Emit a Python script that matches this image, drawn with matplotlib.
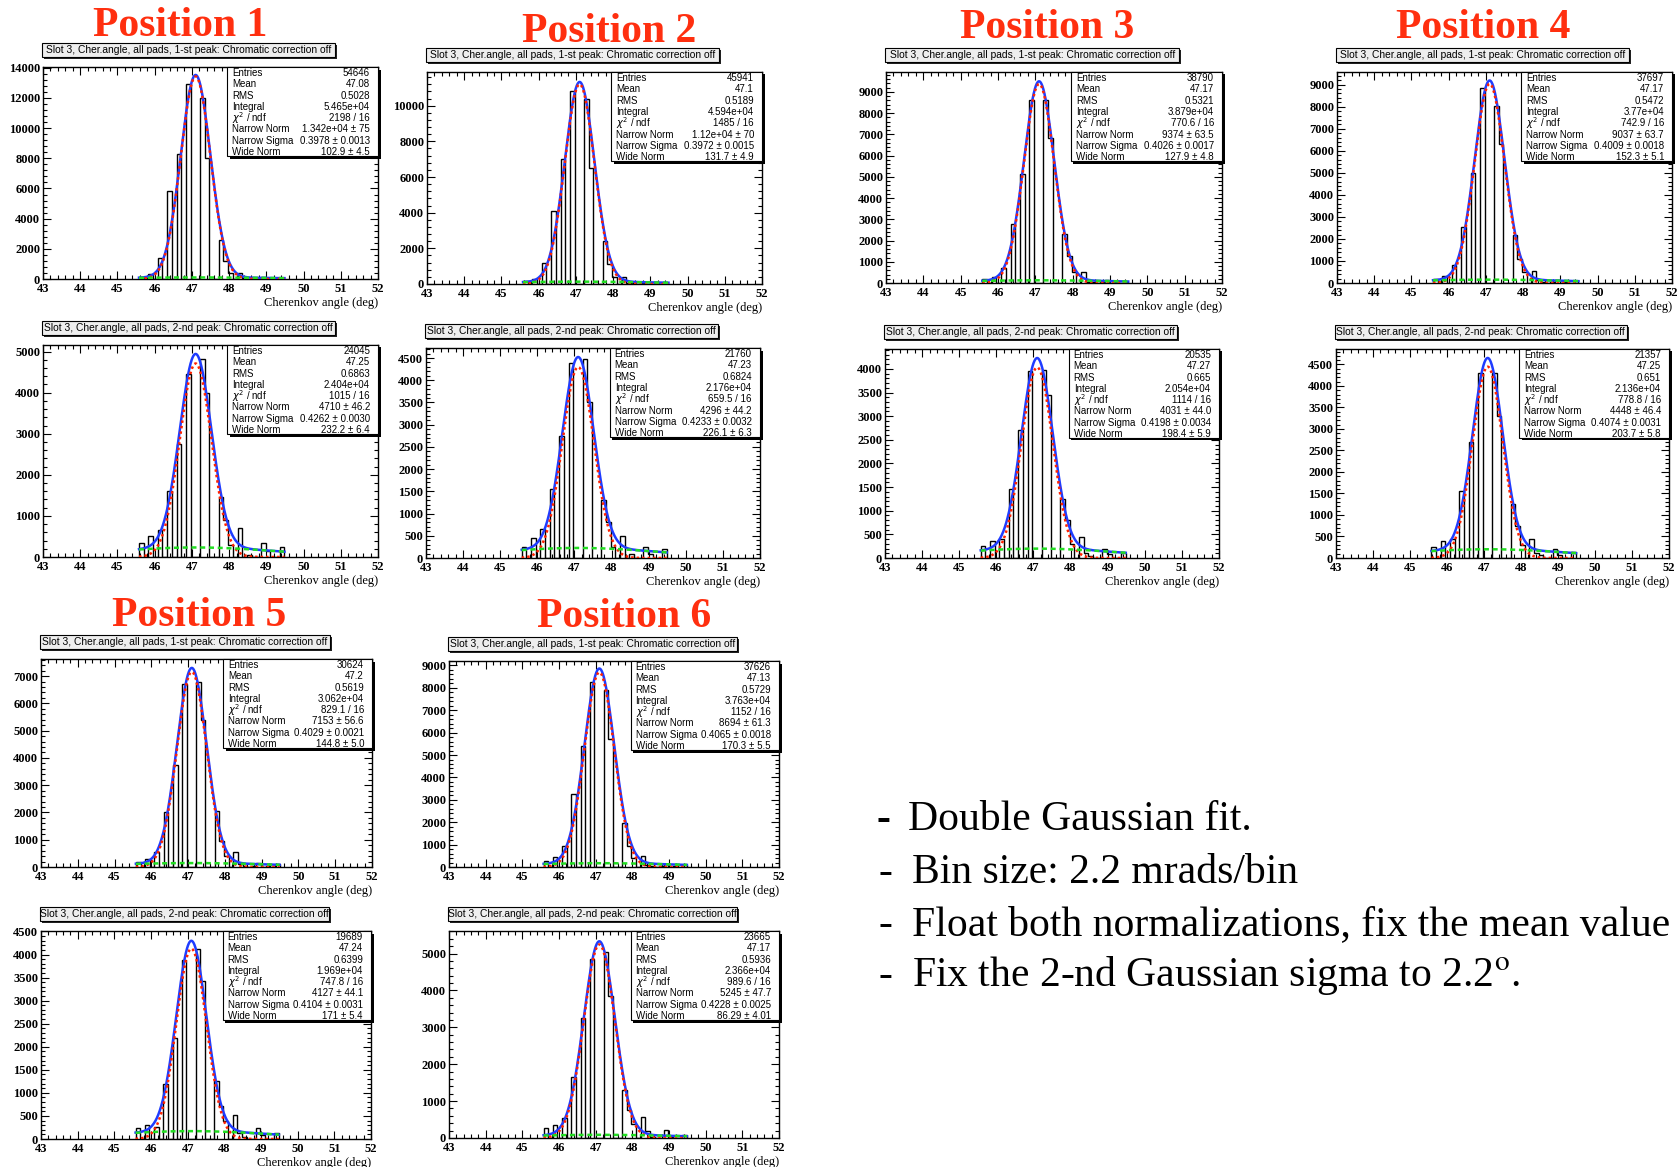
import numpy as np
import matplotlib
matplotlib.use("Agg")
import matplotlib.pyplot as plt
from matplotlib.patches import Rectangle
from matplotlib.ticker import MultipleLocator

W, H = 1680, 1167

# ---------------------------------------------------------------- data ---
position_names = ["Position 1", "Position 2", "Position 3",
                  "Position 4", "Position 5", "Position 6"]
peak_tags = ["1-st", "2-nd"]
hist_title = "Slot 3, Cher.angle, all pads, {} peak: Chromatic correction off"
x_label = "Cherenkov angle (deg)"

bin_start = 45.58                      # deg, first bin edge
bin_width = np.degrees(2.2e-3)         # 2.2 mrad per bin
fit_mean = 47.1                        # fixed mean of both Gaussians (deg)
wide_sigma = 2.2                       # fixed sigma of the wide Gaussian (deg)

# bin contents, panels ordered: pos1 1st, pos1 2nd, pos2 1st, pos2 2nd, ...
counts_p1_first = [150, 0, 350, 0, 1400, 0, 5800, 0, 8300, 0, 12900, 0, 0, 12000, 8000, 0, 0,
                   2600, 1200, 400, 0, 400, 50, 30, 0, 30, 100, 0, 30, 0, 50]
counts_p1_second = [350, 0, 500, 0, 650, 0, 1600, 0, 2750, 0, 4450, 0, 0, 4830, 3980, 0, 0,
                    1450, 900, 300, 0, 700, 0, 60, 0, 0, 350, 150, 0, 0, 250]
counts_p2_first = [150, 0, 300, 0, 1200, 0, 4100, 0, 7000, 0, 10800, 0, 0, 10350, 6500, 0, 0,
                   2400, 1100, 400, 0, 400, 50, 30, 0, 30, 100, 0, 30, 0, 80]
counts_p2_second = [250, 0, 450, 0, 650, 0, 1550, 0, 2750, 0, 4380, 0, 0, 4480, 3500, 0, 0,
                    1300, 800, 250, 0, 500, 0, 80, 0, 0, 250, 100, 0, 0, 200]
counts_p3_first = [200, 0, 300, 0, 700, 0, 2800, 0, 5150, 0, 8600, 0, 0, 8600, 6850, 0, 0,
                   2300, 1250, 500, 0, 500, 60, 30, 0, 30, 150, 0, 30, 0, 50]
counts_p3_second = [250, 0, 350, 0, 400, 0, 1450, 0, 2700, 0, 3950, 0, 0, 3980, 3450, 0, 0,
                    1250, 800, 300, 0, 450, 100, 50, 0, 0, 200, 80, 0, 0, 100]
counts_p4_first = [200, 0, 300, 0, 800, 0, 2550, 0, 5000, 0, 8850, 0, 0, 8050, 6300, 0, 0,
                   2200, 1100, 500, 0, 550, 150, 30, 0, 30, 150, 0, 30, 0, 100]
counts_p4_second = [250, 0, 400, 0, 450, 0, 1550, 0, 2700, 0, 4300, 0, 0, 4300, 3300, 0, 0,
                    1250, 750, 300, 0, 450, 120, 60, 0, 0, 200, 80, 0, 0, 150]
counts_p5_first = [180, 0, 300, 0, 550, 0, 2000, 0, 3750, 0, 6700, 0, 0, 6800, 5400, 0, 0,
                   2050, 950, 400, 0, 550, 100, 30, 0, 30, 150, 0, 30, 0, 100]
counts_p5_second = [230, 0, 310, 0, 250, 0, 1190, 0, 2180, 0, 3880, 0, 0, 4130, 3420, 0, 0,
                    1250, 710, 380, 0, 510, 130, 40, 0, 0, 230, 90, 0, 0, 140]
counts_p6_first = [250, 0, 450, 0, 940, 0, 3240, 0, 5400, 0, 8260, 0, 0, 7920, 5730, 0, 0,
                   1960, 950, 400, 0, 490, 100, 30, 0, 30, 150, 0, 30, 0, 80]
counts_p6_second = [280, 0, 360, 0, 550, 0, 1650, 0, 3240, 0, 4850, 0, 0, 5030, 3850, 0, 0,
                    1300, 750, 380, 0, 570, 200, 30, 0, 0, 220, 30, 0, 0, 80]

panel_counts = [counts_p1_first, counts_p1_second, counts_p2_first, counts_p2_second,
                counts_p3_first, counts_p3_second, counts_p4_first, counts_p4_second,
                counts_p5_first, counts_p5_second, counts_p6_first, counts_p6_second]

entries = ["54646", "24045", "45941", "21760", "38790", "20535",
           "37697", "21357", "30624", "19689", "37626", "23665"]
means = ["47.08", "47.25", "47.1", "47.23", "47.17", "47.27",
         "47.17", "47.25", "47.2", "47.24", "47.13", "47.17"]
rms = ["0.5028", "0.6863", "0.5189", "0.6824", "0.5321", "0.665",
       "0.5472", "0.651", "0.5619", "0.6399", "0.5729", "0.5936"]
integrals = ["5.465e+04", "2.404e+04", "4.594e+04", "2.176e+04", "3.879e+04", "2.054e+04",
             "3.77e+04", "2.136e+04", "3.062e+04", "1.969e+04", "3.763e+04", "2.366e+04"]
chi2_ndf = ["2198 / 16", "1015 / 16", "1485 / 16", "659.5 / 16", "770.6 / 16", "1114 / 16",
            "742.9 / 16", "778.8 / 16", "829.1 / 16", "747.8 / 16", "1152 / 16", "989.6 / 16"]
narrow_norm = ["1.342e+04", "4710", "1.12e+04", "4296", "9374", "4031",
               "9037", "4448", "7153", "4127", "8694", "5245"]
narrow_norm_err = ["75", "46.2", "70", "44.2", "63.5", "44.0",
                   "63.7", "46.4", "56.6", "44.1", "61.3", "47.7"]
narrow_sigma = ["0.3978", "0.4262", "0.3972", "0.4233", "0.4026", "0.4198",
                "0.4009", "0.4074", "0.4029", "0.4104", "0.4065", "0.4228"]
narrow_sigma_err = ["0.0013", "0.0030", "0.0015", "0.0032", "0.0017", "0.0034",
                    "0.0018", "0.0031", "0.0021", "0.0031", "0.0018", "0.0025"]
wide_norm = ["102.9", "232.2", "131.7", "226.1", "127.9", "198.4",
             "152.3", "203.7", "144.8", "171", "170.3", "86.29"]
wide_norm_err = ["4.5", "6.4", "4.9", "6.3", "4.8", "5.9",
                 "5.1", "5.8", "5.0", "5.4", "5.5", "4.01"]

y_top = [14050, 5160, 11890, 4725, 9940, 4420, 9575, 4860, 7625, 4510, 9200, 5610]
y_step = [2000, 1000, 2000, 500, 1000, 500, 1000, 500, 1000, 500, 1000, 1000]

notes = ["Double Gaussian fit.",
         "Bin size: 2.2 mrads/bin",
         "Float both normalizations, fix the mean value",
         r"Fix the 2-nd Gaussian sigma to 2.2$^{\rm o}$."]

# -------------------------------------------------------------- layout ---
# frame of each histogram pad in pixels: left, top, right, bottom
axes_px = [(43, 67, 378, 279), (43, 345, 378, 557),
           (427, 72, 762, 284), (426, 348, 760, 558),
           (886, 72, 1222, 283), (885, 349, 1219, 558),
           (1337, 72, 1672, 283), (1336, 349, 1669, 558),
           (41, 659, 372, 867), (41, 931, 371, 1139),
           (449, 661, 779, 867), (449, 931, 779, 1138)]
heading_px = [(180, 36), (609, 42), (1047, 38), (1483, 38), (199, 626), (624, 627)]
notes_px = [(908, 830), (912, 883), (912, 935), (912, 986)]
dash_px = [876, 879, 879, 879]

RED_TITLE = "#ff2f0f"
SERIF = "Liberation Serif"
SANS = "Liberation Sans"

plt.rcParams["font.family"] = [SANS, "DejaVu Sans"]
plt.rcParams["axes.linewidth"] = 1.0

fig = plt.figure(figsize=(W / 100, H / 100), dpi=100)
fig.patch.set_facecolor("white")


def fx(x):
    return x / W


def fy(y):
    return 1 - y / H


def px_rect(x0, y0, x1, y1, **kw):
    r = Rectangle((fx(x0), fy(y1)), fx(x1) - fx(x0), fy(y0) - fy(y1),
                  transform=fig.transFigure, **kw)
    fig.add_artist(r)
    return r


def draw_panel(i):
    l, t, r, b = axes_px[i]
    ax = fig.add_axes([fx(l), fy(b), fx(r) - fx(l), fy(t) - fy(b)])
    counts = np.asarray(panel_counts[i], dtype=float)
    edges = bin_start + bin_width * np.arange(len(counts) + 1)
    ax.stairs(counts, edges, baseline=0, fill=False, color="black", lw=1.0, zorder=2)

    nn = float(narrow_norm[i])
    ns = float(narrow_sigma[i])
    wn = float(wide_norm[i])
    x = np.linspace(edges[0], edges[-1], 600)
    narrow = nn * np.exp(-0.5 * ((x - fit_mean) / ns) ** 2)
    wide = wn * np.exp(-0.5 * ((x - fit_mean) / wide_sigma) ** 2)
    ax.plot(x, narrow + wide, color="#1f3cff", lw=1.8, zorder=3)
    ax.plot(x, narrow, color="#ff2200", lw=1.8, ls=(0, (1, 1.2)), zorder=4)
    ax.plot(x, wide, color="#22dd22", lw=1.8, ls=(0, (2, 1.5)), zorder=4)

    ax.set_xlim(43, 52)
    ax.set_ylim(0, y_top[i])
    xt = np.arange(43, 53)
    ax.set_xticks(xt, [f"{v:d}" for v in xt], fontsize=9, fontweight="bold", family=SERIF)
    yt = np.arange(0, y_top[i] + 1, y_step[i])
    ax.set_yticks(yt, [f"{v:d}" for v in yt], fontsize=9, fontweight="bold", family=SERIF)
    ax.xaxis.set_minor_locator(MultipleLocator(0.2))
    ax.yaxis.set_minor_locator(MultipleLocator(y_step[i] / 5))
    ax.tick_params(which="both", direction="in", top=True, right=True, width=0.8, colors="black")
    ax.tick_params(which="major", length=5.5)
    ax.tick_params(which="minor", length=2.8)
    ax.tick_params(axis="x", pad=3.2)
    ax.tick_params(axis="y", pad=2)

    fig.text(fx(r), fy(b + 24), x_label, ha="right", va="center",
             fontsize=9, family=SERIF)

    # title pave
    tl, tr = l - 1, l + 0.873 * (r - l)
    tt, tb = t - 24, t - 10
    px_rect(tl + 2, tt + 2, tr + 2, tb + 2, facecolor="#222222", edgecolor="none", zorder=5)
    px_rect(tl, tt, tr, tb, facecolor="#eeeeee", edgecolor="black", lw=0.8, zorder=6)
    fig.text(fx((tl + tr) / 2), fy((tt + tb) / 2), hist_title.format(peak_tags[i % 2]),
             ha="center", va="center", fontsize=7.4, family=SANS, zorder=7)

    # statistics box
    bl, br = l + 0.55 * (r - l), r
    bt, bb = t, t + 89
    px_rect(bl + 2.5, bt + 2.5, br + 2.5, bb + 2.5, facecolor="black", edgecolor="none", zorder=5)
    px_rect(bl, bt, br, bb, facecolor="white", edgecolor="black", lw=0.8, zorder=6)
    labels = ["Entries", "Mean", "RMS", "Integral", r"$\chi^{2}$ / ndf",
              "Narrow Norm", "Narrow Sigma", "Wide Norm"]
    values = [entries[i], means[i], rms[i], integrals[i], chi2_ndf[i],
              f"{narrow_norm[i]} \u00b1 {narrow_norm_err[i]}",
              f"{narrow_sigma[i]} \u00b1 {narrow_sigma_err[i]}",
              f"{wide_norm[i]} \u00b1 {wide_norm_err[i]}"]
    for k, (lab, val) in enumerate(zip(labels, values)):
        yy = fy(bt + 6 + 11.3 * k)
        fig.text(fx(bl + 5), yy, lab, ha="left", va="center", fontsize=7.0,
                 family=SANS, math_fontfamily="dejavusans", zorder=7)
        fig.text(fx(br - 8), yy, val, ha="right", va="center", fontsize=7.0,
                 family=SANS, zorder=7)


for i in range(len(panel_counts)):
    draw_panel(i)

for name, (hx, hy) in zip(position_names, heading_px):
    fig.text(fx(hx), fy(hy), name, ha="center", va="baseline", fontsize=30,
             fontweight="bold", family=SERIF, color=RED_TITLE)

for k, (line, (nx, ny)) in enumerate(zip(notes, notes_px)):
    fig.text(fx(dash_px[k]), fy(ny), "-", ha="left", va="baseline", fontsize=30,
             family=SERIF, fontweight="bold" if k == 0 else "normal")
    fig.text(fx(nx), fy(ny), line, ha="left", va="baseline", fontsize=30,
             family=SERIF, math_fontfamily="stix")

fig.savefig("out.png", dpi=100, facecolor="white")
